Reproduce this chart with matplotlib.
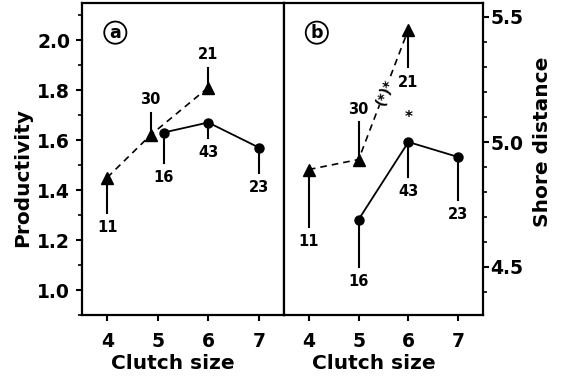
import matplotlib
matplotlib.use("Agg")
import matplotlib.pyplot as plt
from matplotlib.ticker import MultipleLocator

plt.rcParams['font.family'] = ['DejaVu Sans']

# Panel (a): Productivity
a_tri_x = [4, 4.86, 6]
a_tri_y = [1.45, 1.62, 1.81]
a_tri_end = [1.31, 1.71, 1.89]
a_tri_n = ['11', '30', '21']
a_circ_x = [5.12, 6, 7]
a_circ_y = [1.63, 1.67, 1.57]
a_circ_end = [1.51, 1.61, 1.47]
a_circ_n = ['16', '43', '23']

# Panel (b): Shore distance
b_tri_x = [4, 5, 6]
b_tri_y = [4.89, 4.93, 5.45]
b_tri_end = [4.66, 5.08, 5.30]
b_tri_n = ['11', '30', '21']
b_circ_x = [5, 6, 7]
b_circ_y = [4.69, 5.00, 4.94]
b_circ_end = [4.50, 4.86, 4.77]
b_circ_n = ['16', '43', '23']

xticks = [4, 5, 6, 7]

fig = plt.figure(figsize=(5.62, 3.82), dpi=100)
axa = fig.add_axes([82/562, 67/382, 202/562, 312/382])
axb = fig.add_axes([284/562, 67/382, 199/562, 312/382])

TICK_FS = 13.5
LABEL_FS = 14.5
NUM_FS = 10.5

def draw(ax, tx, ty, tend, tn, cx, cy, cend, cn):
    ax.plot(tx, ty, ls=(0, (4, 3)), color='black', lw=1.2, marker='^', ms=8, zorder=3)
    ax.plot(cx, cy, ls='-', color='black', lw=1.3, marker='o', ms=6.5, zorder=3)
    for xs, ys, es, ns in [(tx, ty, tend, tn), (cx, cy, cend, cn)]:
        for x, y, e, n in zip(xs, ys, es, ns):
            ax.plot([x, x], [y, e], color='black', lw=1.5, zorder=2)
            off = -15 if e < y else 13
            ax.annotate(n, (x, e), xytext=(0, off), textcoords='offset pixels',
                        ha='center', va='center', fontsize=NUM_FS, fontweight='bold')
    ax.set_xlim(3.5, 7.5)
    ax.set_xticks(xticks)
    ax.set_xlabel('Clutch size', fontsize=LABEL_FS, fontweight='bold')
    ax.xaxis.set_label_coords(0.45, -0.125)
    for s in ax.spines.values():
        s.set_linewidth(1.6)
    ax.tick_params(axis='x', direction='out', length=4, width=1.5, pad=8,
                   labelsize=TICK_FS)
    for lab in ax.get_xticklabels():
        lab.set_fontweight('bold')

draw(axa, a_tri_x, a_tri_y, a_tri_end, a_tri_n, a_circ_x, a_circ_y, a_circ_end, a_circ_n)
draw(axb, b_tri_x, b_tri_y, b_tri_end, b_tri_n, b_circ_x, b_circ_y, b_circ_end, b_circ_n)

axa.set_ylim(0.9, 2.148)
axa.set_yticks([1.0, 1.2, 1.4, 1.6, 1.8, 2.0])
axa.yaxis.set_minor_locator(MultipleLocator(0.1))
axa.tick_params(axis='y', which='major', direction='out', length=4.5, width=1.5, pad=4, labelsize=TICK_FS)
axa.tick_params(axis='y', which='minor', direction='out', length=3, width=1.2)
for lab in axa.get_yticklabels():
    lab.set_fontweight('bold')
axa.set_ylabel('Productivity', fontsize=LABEL_FS, fontweight='bold')
axa.yaxis.set_label_coords(-0.245, 0.442)

axb.set_ylim(4.308, 5.556)
axb.yaxis.tick_right()
axb.yaxis.set_label_position('right')
axb.set_yticks([4.5, 5.0, 5.5])
axb.yaxis.set_minor_locator(MultipleLocator(0.1))
axb.tick_params(axis='y', which='major', direction='out', length=4.5, width=1.5, pad=1, labelsize=TICK_FS)
axb.tick_params(axis='y', which='minor', direction='out', length=3, width=1.2)
for lab in axb.get_yticklabels():
    lab.set_fontweight('bold')
axb.set_ylabel('Shore distance', fontsize=LABEL_FS, fontweight='bold')
axb.yaxis.set_label_coords(1.25, 0.554)

# panel letters
for ax, letter in [(axa, 'a'), (axb, 'b')]:
    ax.text(0.165, 0.905, letter, transform=ax.transAxes, ha='center', va='center',
            fontsize=12.5, fontweight='bold',
            bbox=dict(boxstyle='circle,pad=0.12', fc='white', ec='black', lw=1.3))

# significance marks in (b)
axb.text(6, 5.10, '*', ha='center', va='center', fontsize=11, fontweight='bold')
axb.text(5.53, 5.20, '(*)*', ha='center', va='center', fontsize=10, fontweight='bold',
         rotation=69, zorder=4,
         bbox=dict(boxstyle='square,pad=0.05', fc='white', ec='none'))

fig.savefig('out.png', dpi=100)
